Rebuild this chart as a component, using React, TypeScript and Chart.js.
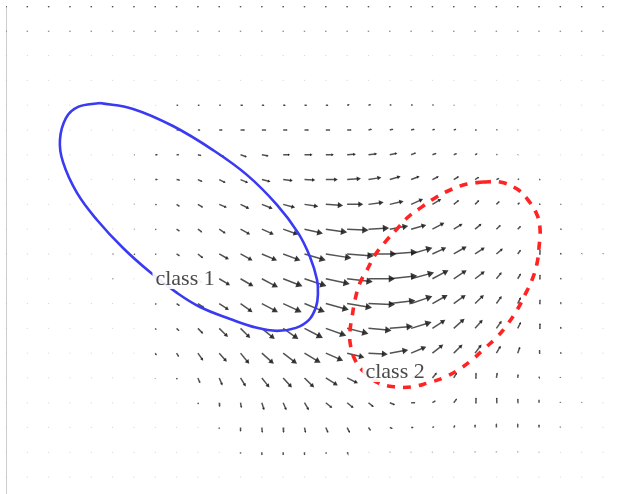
import React, { useEffect, useRef } from 'react';
import { Chart, registerables } from 'chart.js';

Chart.register(...registerables);

// grid columns (x) and rows (y, top row first)
const GRID_X = [0, 1, 2, 3, 4, 5, 6, 7, 8, 9, 10, 11, 12, 13, 14, 15, 16, 17, 18, 19, 20, 21, 22, 23, 24, 25, 26, 27, 28];
const GRID_Y = [19, 18, 17, 16, 15, 14, 13, 12, 11, 10, 9, 8, 7, 6, 5, 4, 3, 2, 1, 0];

// horizontal component of the field, one array per row (top to bottom)
const U0 = [0, 0, 0, 0, 0, 0, 0, 0, 0, 0, 0, 0, 0, 0, 0, 0, 0, 0, 0, 0, 0, 0, 0, 0, 0, 0, 0, 0, 0];
const U1 = [0, 0, 0, 0, 0, 0, 0, 0, 0, 0, 0, 0, 0, 0, 0, 0, 0, 0, 0, 0, 0, 0, 0, 0, 0, 0, 0, 0, 0];
const U2 = [0, 0, 0, 0, 0, 0, 0, 0, 0, 0, 0, 0, 0, 0, 0, 0, 0, 0, 0, 0, 0, 0, 0, 0, 0, 0, 0, 0, 0];
const U3 = [0, 0, 0, 0, 0, 0, 0, 0, 0, 0, 0, 0, 0, 0, 0, 0, 0, 0, 0, 0, 0, 0, 0, 0, 0, 0, 0, 0, 0];
const U4 = [0, 0, 0, 0, 0, 0, 0, 0.03, 0.08, 0.08, 0.08, 0.1, 0.1, 0.1, 0.1, 0.1, 0.1, 0.1, 0.08, 0.08, 0.06, 0.03, 0, 0, 0, 0, 0, 0, 0];
const U5 = [0, 0, 0, 0, 0, 0, 0, 0.04, 0.1, 0.1, 0.15, 0.2, 0.2, 0.2, 0.2, 0.2, 0.2, 0.15, 0.15, 0.15, 0.1, 0.1, 0.05, 0.05, 0.02, 0, 0, 0, 0];
const U6 = [0, 0, 0, 0, 0, 0, 0.03, 0.1, 0.1, 0.15, 0.23, 0.28, 0.3, 0.3, 0.35, 0.35, 0.38, 0.38, 0.33, 0.22, 0.18, 0.14, 0.1, 0.05, 0.02, 0, 0, 0, 0];
const U7 = [0, 0, 0, 0, 0, 0, 0.03, 0.1, 0.15, 0.2, 0.28, 0.33, 0.38, 0.42, 0.47, 0.52, 0.6, 0.56, 0.47, 0.37, 0.28, 0.23, 0.18, 0.12, 0.07, 0.04, 0, 0, 0];
const U8 = [0, 0, 0, 0, 0, 0, 0.02, 0.07, 0.14, 0.23, 0.33, 0.38, 0.47, 0.52, 0.6, 0.75, 0.7, 0.66, 0.6, 0.52, 0.38, 0.23, 0.18, 0.14, 0.08, 0.04, 0.02, 0, 0];
const U9 = [0, 0, 0, 0, 0, 0, 0.02, 0.05, 0.14, 0.19, 0.28, 0.42, 0.52, 0.66, 0.8, 0.94, 0.94, 0.9, 0.8, 0.66, 0.52, 0.38, 0.28, 0.19, 0.14, 0.05, 0.03, 0, 0];
const U10 = [0, 0, 0, 0, 0.02, 0.04, 0.05, 0.05, 0.14, 0.23, 0.42, 0.52, 0.66, 0.75, 0.94, 1.17, 1.22, 1.3, 1.27, 0.94, 0.6, 0.56, 0.42, 0.28, 0.14, 0.05, 0.02, 0.02, 0.01];
const U11 = [0, 0, 0, 0, 0, 0.03, 0, 0.05, 0.05, 0.2, 0.47, 0.56, 0.7, 0.84, 0.98, 1.08, 1.17, 1.22, 1.27, 1.03, 0.7, 0.56, 0.42, 0.23, 0.14, 0.05, 0.02, 0, 0];
const U12 = [0, 0, 0, 0, 0, 0, 0, 0.05, 0.14, 0.28, 0.42, 0.52, 0.7, 0.8, 0.9, 1.03, 1.13, 1.22, 1.17, 0.94, 0.66, 0.52, 0.38, 0.23, 0.14, 0.05, 0.02, 0, 0];
const U13 = [0, 0, 0, 0, 0, 0, 0, 0.05, 0.12, 0.23, 0.38, 0.42, 0.56, 0.66, 0.8, 0.9, 0.94, 1.03, 1.03, 0.9, 0.56, 0.47, 0.33, 0.23, 0.14, 0.05, 0.02, 0, 0];
const U14 = [0, 0, 0, 0, 0, 0, 0, 0.05, 0.1, 0.23, 0.33, 0.38, 0.52, 0.6, 0.7, 0.75, 0.75, 0.84, 0.8, 0.66, 0.47, 0.38, 0.28, 0.19, 0.1, 0.03, 0.02, 0, 0];
const U15 = [0, 0, 0, 0, 0, 0, 0, 0, 0.03, 0.1, 0.14, 0.23, 0.33, 0.38, 0.42, 0.52, 0.47, 0.47, 0.42, 0.33, 0.19, 0.14, 0.05, 0.04, 0.02, 0.01, 0, 0, 0];
const U16 = [0, 0, 0, 0, 0, 0, 0, 0, 0, 0.03, 0.02, 0.04, 0.1, 0.14, 0.19, 0.28, 0.28, 0.23, 0.23, 0.19, 0.14, 0.14, 0.05, 0.02, 0.01, 0, 0, 0, 0];
const U17 = [0, 0, 0, 0, 0, 0, 0, 0, 0, 0, 0, 0, 0.02, 0.02, 0.05, 0.1, 0.12, 0.1, 0.12, 0.1, 0.08, 0.05, 0, 0, 0, 0, 0, 0, 0];
const U18 = [0, 0, 0, 0, 0, 0, 0, 0, 0, 0, 0, 0, 0, 0, 0, 0.03, 0.03, 0.02, 0.02, 0, 0, 0, 0, 0, 0, 0, 0, 0, 0];
const U19 = [0, 0, 0, 0, 0, 0, 0, 0, 0, 0, 0, 0, 0, 0, 0, 0, 0, 0, 0, 0, 0, 0, 0, 0, 0, 0, 0, 0, 0];

// vertical component of the field (positive = up), one array per row
const V0 = [-0.06, -0.06, -0.06, -0.06, -0.06, -0.06, -0.06, -0.06, -0.06, -0.06, -0.06, -0.06, -0.06, -0.06, -0.06, -0.06, -0.06, -0.06, -0.06, -0.06, -0.06, -0.06, -0.06, -0.06, -0.06, -0.06, -0.06, -0.06, -0.06];
const V1 = [-0.03, -0.03, -0.03, -0.03, -0.03, -0.03, -0.03, -0.03, -0.03, -0.03, -0.03, -0.03, -0.03, -0.03, -0.03, -0.03, -0.03, -0.03, -0.03, -0.03, -0.03, -0.03, -0.03, -0.03, -0.03, -0.03, -0.03, -0.03, -0.03];
const V2 = [0, 0, 0, 0, 0, 0, 0, 0, 0, 0, 0, 0, 0, 0, 0, 0, 0, 0, 0, 0, 0, 0, 0, 0, 0, 0, 0, 0, 0];
const V3 = [0, 0, 0, 0, 0, 0, 0, 0, 0, 0, 0, 0, 0, 0, 0, 0, 0, 0, 0, 0, 0, 0, 0, 0, 0, 0, 0, 0, 0];
const V4 = [0, 0, 0, 0, 0, 0, 0, 0, 0, 0, 0, 0, 0, 0, 0, 0, 0.02, 0.02, 0.02, 0.02, 0.02, 0, 0, 0, 0, 0, 0, 0, 0];
const V5 = [0, 0, 0, 0, 0, 0, 0, 0, 0, 0, 0, 0, 0, 0, 0, 0, 0, 0.03, 0.03, 0.03, 0.03, 0.03, 0.02, 0.02, 0, 0, 0, 0, 0];
const V6 = [0, 0, 0, 0, 0, 0, 0, 0, 0, -0.03, -0.08, -0.08, -0.05, 0, 0, 0, 0.02, 0.04, 0.06, 0.08, 0.06, 0.05, 0.04, 0.02, 0.01, 0, 0, 0, 0];
const V7 = [0, 0, 0, 0, 0, 0, 0, 0, -0.02, -0.08, -0.12, -0.12, -0.08, -0.04, -0.02, 0, 0.04, 0.08, 0.12, 0.12, 0.12, 0.12, 0.1, 0.05, 0.03, 0.02, 0, 0, 0];
const V8 = [0, 0, 0, 0, 0, 0, 0, -0.02, -0.08, -0.12, -0.12, -0.16, -0.16, -0.12, -0.08, -0.04, 0, 0.08, 0.12, 0.2, 0.2, 0.16, 0.16, 0.12, 0.06, 0.03, 0.01, 0, 0];
const V9 = [0, 0, 0, 0, 0, 0, 0, -0.02, -0.08, -0.12, -0.16, -0.2, -0.2, -0.2, -0.16, -0.12, -0.04, 0.04, 0.12, 0.16, 0.24, 0.2, 0.2, 0.16, 0.12, 0.04, 0.02, 0, 0];
const V10 = [0, 0, 0, 0, 0, 0, -0.03, -0.02, -0.08, -0.16, -0.2, -0.24, -0.24, -0.24, -0.24, -0.16, -0.08, 0, 0.08, 0.24, 0.24, 0.28, 0.24, 0.2, 0.16, 0.16, 0.04, 0.02, 0.02];
const V11 = [0, 0, 0, 0, 0, 0, 0, -0.02, -0.04, -0.16, -0.24, -0.28, -0.32, -0.28, -0.28, -0.2, -0.12, 0, 0.12, 0.24, 0.32, 0.32, 0.28, 0.24, 0.2, 0.16, 0.04, 0, 0];
const V12 = [0, 0, 0, 0, 0, 0, 0, -0.04, -0.08, -0.16, -0.24, -0.32, -0.32, -0.32, -0.32, -0.24, -0.16, -0.04, 0.12, 0.28, 0.32, 0.32, 0.32, 0.28, 0.24, 0.16, 0.06, 0, 0];
const V13 = [0, 0, 0, 0, 0, 0, 0, -0.06, -0.1, -0.2, -0.32, -0.36, -0.4, -0.4, -0.36, -0.28, -0.2, -0.08, 0.08, 0.24, 0.32, 0.36, 0.32, 0.28, 0.24, 0.2, 0.06, 0, 0];
const V14 = [0, 0, 0, 0, 0, 0, 0, -0.08, -0.14, -0.28, -0.32, -0.4, -0.4, -0.4, -0.36, -0.28, -0.16, -0.04, 0.12, 0.24, 0.32, 0.32, 0.32, 0.28, 0.24, 0.12, 0.04, 0, 0];
const V15 = [0, 0, 0, 0, 0, 0, 0, -0.02, -0.06, -0.2, -0.28, -0.32, -0.36, -0.36, -0.36, -0.28, -0.2, -0.12, 0, 0.12, 0.2, 0.2, 0.2, 0.2, 0.14, 0.06, 0.03, 0, 0];
const V16 = [0, 0, 0, 0, 0, 0, 0, 0, 0, -0.06, -0.16, -0.2, -0.28, -0.28, -0.28, -0.2, -0.2, -0.16, -0.08, 0, 0.08, 0.16, 0.2, 0.2, 0.16, 0.12, 0.04, 0.02, 0];
const V17 = [0, 0, 0, 0, 0, 0, 0, 0, 0, 0, -0.06, -0.16, -0.2, -0.2, -0.2, -0.2, -0.2, -0.12, -0.04, 0, 0.04, 0.08, 0.12, 0.16, 0.16, 0.12, 0.04, 0, 0];
const V18 = [0, 0, 0, 0, 0, 0, 0, 0, 0, 0, 0, -0.05, -0.1, -0.1, -0.1, -0.06, -0.04, 0, 0, 0.02, 0.02, 0.02, 0.03, 0.03, 0.03, 0.02, 0, 0, 0];
const V19 = [0, 0, 0, 0, 0, 0, 0, 0, 0, 0, 0, 0, 0, 0, 0, 0, 0, 0, 0, 0, 0, 0, 0, 0, 0, 0, 0, 0, 0];

// class 1 contour (blue ellipse)
const CLASS1_X = [4.41, 5.96, 7.83, 9.71, 11.3, 12.71, 13.7, 14.26, 14.59, 14.63, 14.54, 14.21, 13.6, 12.71, 11.77, 10.51, 9.1, 8.02, 6.75, 5.49, 4.27, 3.33, 2.67, 2.53, 2.81, 3.38, 4.41];
const CLASS1_Y = [15.09, 14.85, 14.16, 13.19, 12.19, 10.98, 9.85, 8.88, 7.95, 7.39, 6.86, 6.34, 6.02, 5.9, 6.02, 6.38, 6.86, 7.43, 8.27, 9.24, 10.37, 11.46, 12.71, 13.6, 14.48, 14.93, 15.09];

// class 2 contour (red dashed)
const CLASS2_X = [22.37, 23.17, 23.97, 24.48, 24.91, 25.05, 25.0, 24.91, 24.67, 24.34, 23.97, 23.5, 23.03, 22.47, 21.86, 21.2, 20.5, 19.79, 19.04, 18.25, 17.45, 16.84, 16.37, 16.14, 16.14, 16.23, 16.37, 16.6, 16.93, 17.31, 17.78, 18.34, 18.86, 19.51, 20.12, 20.83, 21.62, 22.37];
const CLASS2_Y = [11.9, 11.9, 11.62, 11.18, 10.57, 9.97, 9.28, 8.64, 7.95, 7.35, 6.74, 6.14, 5.65, 5.21, 4.73, 4.32, 4.0, 3.8, 3.64, 3.64, 3.8, 4.2, 4.73, 5.41, 5.94, 6.46, 7.15, 7.83, 8.35, 8.96, 9.48, 10.01, 10.49, 10.9, 11.26, 11.58, 11.82, 11.9];

// text labels
const LABEL_TEXT = ['class 1', 'class 2'];
const LABEL_X = [8.4, 18.25];
const LABEL_Y = [8.03, 4.28];

const U_ROWS = [U0, U1, U2, U3, U4, U5, U6, U7, U8, U9, U10, U11, U12, U13, U14, U15, U16, U17, U18, U19];
const V_ROWS = [V0, V1, V2, V3, V4, V5, V6, V7, V8, V9, V10, V11, V12, V13, V14, V15, V16, V17, V18, V19];

const HEAD_AT = 0.86;

function toPix(chart: any, u: number, v: number): [number, number] {
  const xs = chart.scales.x;
  const ys = chart.scales.y;
  const kx = xs.getPixelForValue(1) - xs.getPixelForValue(0);
  const ky = ys.getPixelForValue(1) - ys.getPixelForValue(0);
  return [u * kx, v * ky];
}

const labelPlugin = {
  id: 'classLabels',
  afterDatasetsDraw(chart: any) {
    const { ctx } = chart;
    const xs = chart.scales.x;
    const ys = chart.scales.y;
    ctx.save();
    ctx.font = '22px "Liberation Serif", "Times New Roman", serif';
    ctx.textAlign = 'center';
    ctx.textBaseline = 'middle';
    LABEL_TEXT.forEach((t, i) => {
      const px = xs.getPixelForValue(LABEL_X[i]);
      const py = ys.getPixelForValue(LABEL_Y[i]);
      const w = ctx.measureText(t).width;
      ctx.fillStyle = 'rgba(255,255,255,0.92)';
      ctx.fillRect(px - w / 2 - 3, py - 11, w + 6, 22);
      ctx.fillStyle = '#4a4a4a';
      ctx.fillText(t, px, py + 1);
    });
    ctx.restore();
  },
};

export default function App() {
  const ref = useRef<HTMLCanvasElement | null>(null);

  useEffect(() => {
    if (!ref.current) return;
    const arrows: any[] = [];
    GRID_Y.forEach((gy, r) => {
      GRID_X.forEach((gx, c) => {
        arrows.push({ x: gx, y: gy, u: U_ROWS[r][c], v: V_ROWS[r][c] });
      });
    });
    const shafts: any[] = [];
    arrows.forEach((a) => {
      shafts.push({ x: a.x, y: a.y });
      shafts.push({ x: a.x + a.u * HEAD_AT, y: a.y + a.v * HEAD_AT });
      shafts.push({ x: a.x, y: null });
    });
    const heads = arrows.map((a) => ({ x: a.x + a.u * HEAD_AT, y: a.y + a.v * HEAD_AT, u: a.u, v: a.v }));

    const headLen = (ctx: any) => {
      const p = ctx.raw;
      if (!p) return 0;
      const [dx, dy] = toPix(ctx.chart, p.u, p.v);
      return Math.hypot(dx, dy);
    };

    const chart = new Chart(ref.current, {
      type: 'scatter',
      data: {
        datasets: [
          {
            label: 'class 1',
            data: CLASS1_X.map((x, i) => ({ x, y: CLASS1_Y[i] })),
            showLine: true,
            borderColor: 'rgb(58,58,242)',
            borderWidth: 2.6,
            tension: 0.4,
            pointRadius: 0,
            fill: false,
          },
          {
            label: 'class 2',
            data: CLASS2_X.map((x, i) => ({ x, y: CLASS2_Y[i] })),
            showLine: true,
            borderColor: 'rgb(255,35,35)',
            borderWidth: 3.6,
            borderDash: [8, 8],
            tension: 0.4,
            pointRadius: 0,
            fill: false,
          },
          {
            label: 'heads',
            data: heads,
            showLine: false,
            pointStyle: 'triangle',
            pointBorderWidth: 0,
            pointRadius: (ctx: any) => {
              const L = headLen(ctx);
              return Math.max(0.85, Math.min(4.2, L * 0.22));
            },
            pointRotation: (ctx: any) => {
              const p = ctx.raw;
              if (!p) return 0;
              const [dx, dy] = toPix(ctx.chart, p.u, p.v);
              if (dx === 0 && dy === 0) return 0;
              return (Math.atan2(dx, -dy) * 180) / Math.PI;
            },
            pointBackgroundColor: (ctx: any) => {
              const L = headLen(ctx);
              return L < 2 ? 'rgba(90,90,90,0.3)' : 'rgba(25,25,25,0.85)';
            },
          },
          {
            label: 'shafts',
            data: shafts,
            showLine: true,
            spanGaps: false,
            borderColor: 'rgba(40,40,40,0.8)',
            borderWidth: 1.5,
            pointRadius: 0,
            tension: 0,
          },
        ],
      },
      options: {
        animation: false,
        responsive: false,
        events: [],
        layout: { padding: { left: 6, top: 6, right: 7, bottom: 1 } },
        plugins: { legend: { display: false }, tooltip: { enabled: false } },
        scales: {
          x: { type: 'linear', min: 0, max: 28.61, display: false },
          y: {
            type: 'linear',
            min: -0.64,
            max: 19,
            display: true,
            grid: { display: false, drawTicks: false },
            ticks: { display: false },
            border: { display: true, color: 'rgb(205,205,205)', width: 1 },
          },
        },
      },
      plugins: [labelPlugin],
    });
    return () => chart.destroy();
  }, []);

  return (
    <div style={{ position: 'absolute', left: 0, top: 0, width: 623, height: 494, background: '#fff' }}>
      <canvas ref={ref} width={623} height={494} style={{ width: 623, height: 494, display: 'block' }} />
    </div>
  );
}
